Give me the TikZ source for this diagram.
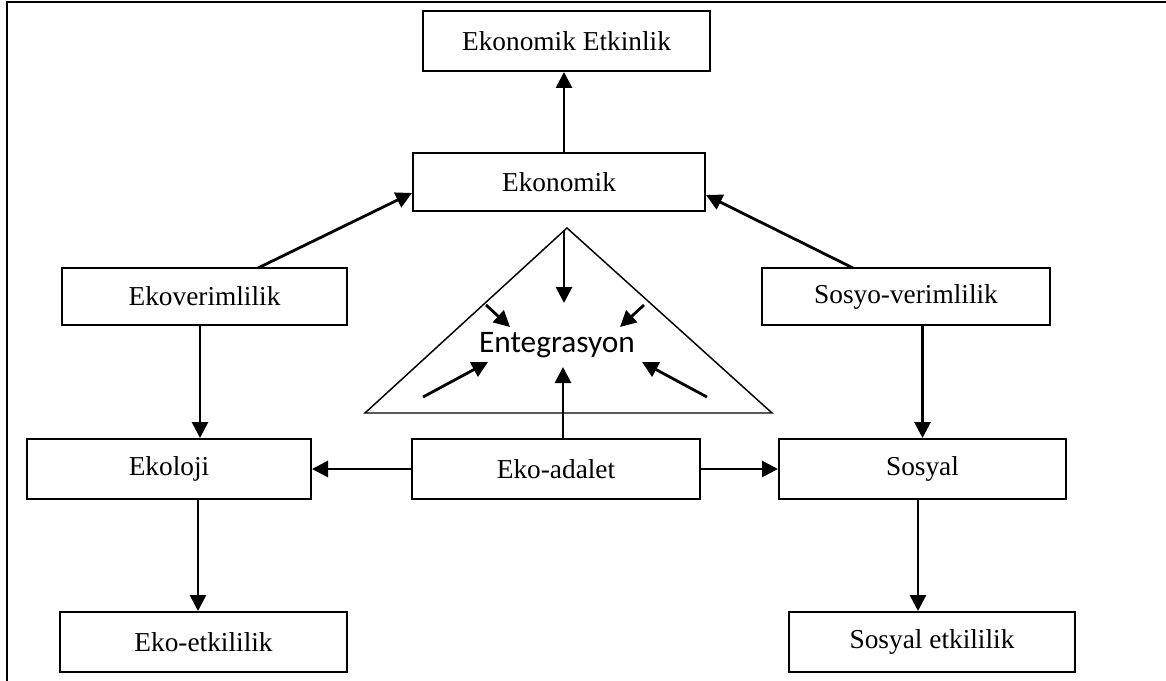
\documentclass[tikz,border=0pt]{standalone}
\usepackage{fontspec}
\setmainfont{Liberation Serif}
\newfontfamily\calfont{Carlito}
\usetikzlibrary{arrows.meta}
\begin{document}
\begin{tikzpicture}[x=0.75pt,y=-0.75pt,
  box/.style={draw,line width=1.5pt,minimum width=#1*0.75pt,minimum height=44pt,inner sep=0pt,font=\fontsize{20.5}{24}\selectfont},
  box/.default=287,
  arr/.style={line width=2.1pt,-{Triangle[length=12pt,width=12pt]}},
  thin/.style={line width=1.1pt}]
\useasboundingbox (0,0) rectangle (1166,681);
% outer frame (open on right and bottom)
\draw[line width=2.2pt] (7,681) -- (7,2) -- (1166,2);
% boxes
\node[box=287,minimum height=45pt] (ee) at (566.5,41) {Ekonomik Etkinlik};
\node[box=292,minimum height=43.5pt] (ek) at (559,182) {Ekonomik};
\node[box=285,minimum height=43pt] (ev) at (204.5,296.5) {Ekoverimlilik};
\node[box=288,minimum height=43pt] (sv) at (906,296.5) {Sosyo-verimlilik};
\node[box=284,minimum height=45pt] (el) at (169,469) {Ekoloji};
\node[box=288,minimum height=45pt] (ea) at (556,469) {Eko-adalet};
\node[box=287,minimum height=45pt] (so) at (922.5,469) {Sosyal};
\node[box=287,minimum height=45pt] (et) at (203.5,642) {Eko-etkililik};
\node[box=286,minimum height=45pt] (se) at (932,642) {Sosyal etkililik};
% triangle
\coordinate (apex) at (567,228);
\coordinate (bl) at (365,413);
\coordinate (br) at (772,413);
\draw[thin] (bl) -- (apex) -- (br) -- cycle;
\node[font=\calfont\fontsize{23.5}{27}\selectfont,inner sep=0pt] (int) at (557,345) {Entegrasyon};
% main connectors
\draw[arr] (ek.north -| 564,0) -- (ee.south -| 564,0);
\draw[arr] (258,268) coordinate (evt) -- (412,193) coordinate (ekl);
\draw[arr] (853,268) coordinate (svt) -- (706,195) coordinate (ekr);
\draw[arr] (ev.south -| 200,0) -- (el.north -| 200,0);
\draw[arr] (so.north |- sv.south) -- (so.north);
\draw[arr] (el.south -| 198,0) -- (et.north -| 198,0);
\draw[arr] (so.south -| 918,0) -- (se.north -| 918,0);
\draw[arr] (ea.west) -- (el.east);
\draw[arr] (ea.east) -- (so.west);
% arrows inside triangle
\coordinate (tv) at (563,367);
\draw[arr] (ea.north -| tv) -- (tv);
\coordinate (ap1) at (564,230);
\coordinate (ap2) at (564,303);
\draw[arr] (ap1) -- (ap2);
\coordinate (a1s) at (486,305); \coordinate (a1e) at (510,327);
\coordinate (a2s) at (644,305); \coordinate (a2e) at (620,327);
\coordinate (a3s) at (423,397); \coordinate (a3e) at (488,362);
\coordinate (a4s) at (707,397); \coordinate (a4e) at (642,362);
\draw[arr] (a1s) -- (a1e);
\draw[arr] (a2s) -- (a2e);
\draw[arr] (a3s) -- (a3e);
\draw[arr] (a4s) -- (a4e);
\end{tikzpicture}
\end{document}
